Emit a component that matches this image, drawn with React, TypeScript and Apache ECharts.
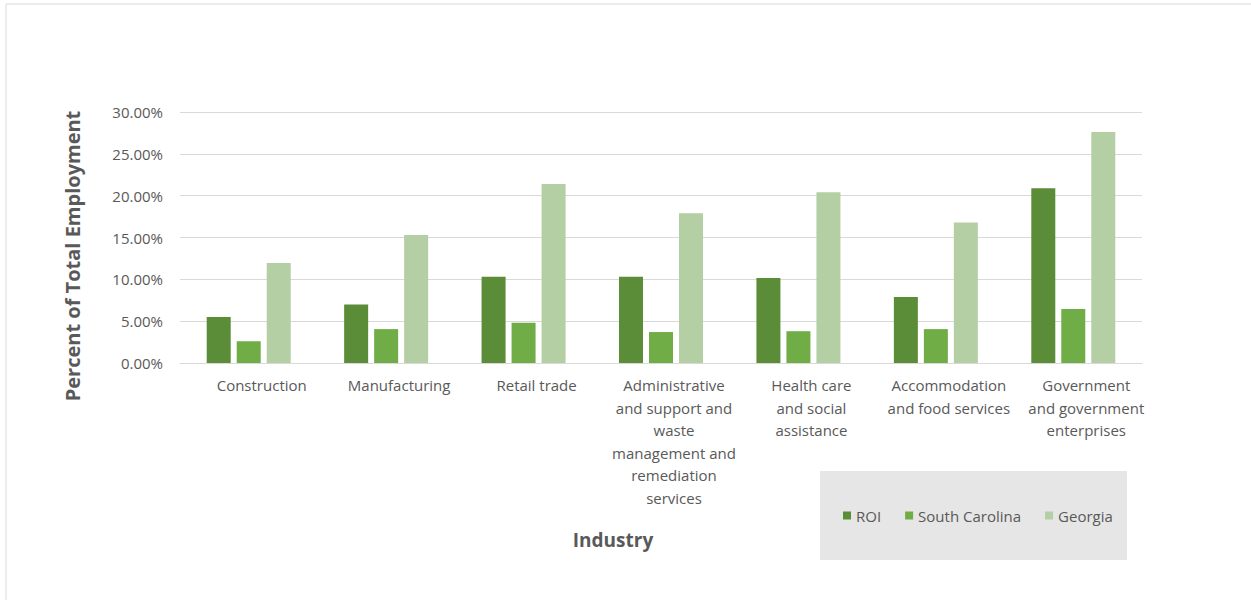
import React, { useEffect, useRef } from "react";
import * as echarts from "echarts";

const categories = [
  "Construction",
  "Manufacturing",
  "Retail trade",
  "Administrative and support and waste management and remediation services",
  "Health care and social assistance",
  "Accommodation and food services",
  "Government and government enterprises",
];
const categoryLabels = [
  "Construction",
  "Manufacturing",
  "Retail trade",
  "Administrative\nand support and\nwaste\nmanagement and\nremediation\nservices",
  "Health care\nand social\nassistance",
  "Accommodation\nand food services",
  "Government\nand government\nenterprises",
];
const roi = [5.5, 7.0, 10.3, 10.3, 10.15, 7.9, 20.9];
const southCarolina = [2.6, 4.05, 4.8, 3.7, 3.8, 4.05, 6.45];
const georgia = [11.95, 15.3, 21.4, 17.9, 20.4, 16.8, 27.6];
const yTicks = { min: 0, max: 30, interval: 5 };

const FONT = "'Open Sans', 'Noto Sans', sans-serif";
const GREY = "#595959";

export default function App() {
  const ref = useRef<HTMLDivElement>(null);
  useEffect(() => {
    const chart = echarts.init(ref.current!, null, { renderer: "svg" });
    const mk = (name: string, data: number[], color: string) => ({
      name,
      type: "bar",
      data,
      barWidth: 24,
      barGap: "25%",
      itemStyle: { color },
    });
    chart.setOption({
      animation: false,
      backgroundColor: "#ffffff",
      textStyle: { fontFamily: FONT },
      grid: { left: 180, right: 109, top: 112, bottom: 237, containLabel: false },
      xAxis: {
        type: "category",
        data: categories,
        axisTick: { show: false },
        axisLine: { lineStyle: { color: "#d9d9d9", width: 1 } },
        axisLabel: {
          interval: 0,
          color: GREY,
          fontSize: 15,
          fontFamily: FONT,
          lineHeight: 22.5,
          margin: 11,
          padding: [0, 0, 0, 26],
          formatter: (v: string) => categoryLabels[categories.indexOf(v)],
        },
      },
      yAxis: {
        type: "value",
        min: yTicks.min,
        max: yTicks.max,
        interval: yTicks.interval,
        axisLine: { show: false },
        axisTick: { show: false },
        splitLine: { lineStyle: { color: "#d9d9d9", width: 1 } },
        axisLabel: {
          color: GREY,
          fontSize: 15,
          fontFamily: FONT,
          margin: 17,
          formatter: (v: number) => v.toFixed(2) + "%",
        },
      },
      legend: {
        data: ["ROI", "South Carolina", "Georgia"],
        left: 838,
        top: 503,
        itemWidth: 8,
        itemHeight: 8,
        itemGap: 24,
        icon: "rect",
        z: 10,
        textStyle: { color: GREY, fontSize: 15, fontFamily: FONT },
      },
      graphic: [
        {
          type: "rect",
          z: -10,
          silent: true,
          shape: { x: 6, y: 4, width: 1300, height: 700 },
          style: { fill: "none", stroke: "#d9d9d9", lineWidth: 1 },
        },
        {
          type: "rect",
          z: 0,
          silent: true,
          shape: { x: 820, y: 471, width: 307, height: 89 },
          style: { fill: "#e6e6e6" },
        },
        {
          type: "text",
          x: 72,
          y: 256,
          rotation: Math.PI / 2,
          style: {
            text: "Percent of Total Employment",
            fill: GREY,
            font: `bold 20px ${FONT}`,
            align: "center",
            verticalAlign: "middle",
          },
        },
        {
          type: "text",
          x: 613,
          y: 540,
          style: {
            text: "Industry",
            fill: GREY,
            font: `bold 19px ${FONT}`,
            align: "center",
            verticalAlign: "middle",
          },
        },
      ],
      series: [
        mk("ROI", roi, "#5b8c37"),
        mk("South Carolina", southCarolina, "#70ad47"),
        mk("Georgia", georgia, "#b4cfa4"),
      ],
    });
    return () => chart.dispose();
  }, []);
  return (
    <div
      ref={ref}
      style={{ position: "fixed", left: 0, top: 0, width: 1251, height: 600 }}
    />
  );
}
